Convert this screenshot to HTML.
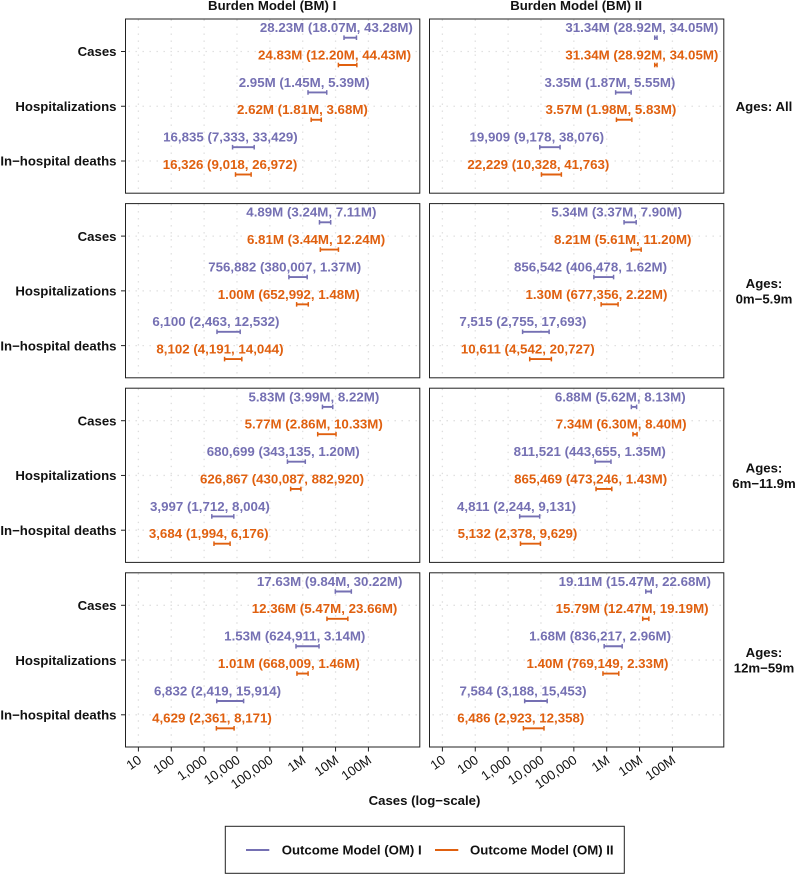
<!DOCTYPE html>
<html lang="en">
<head>
<meta charset="utf-8">
<title>Burden model estimates by age group</title>
<style>
html,body{margin:0;padding:0;background:#fff;width:796px;height:874px;overflow:hidden}
svg{display:block;font-family:"Liberation Sans",sans-serif}
text{fill:#111}
</style>
</head>
<body>
<svg id="chart" xmlns="http://www.w3.org/2000/svg" width="796" height="874" viewBox="0 0 796 874"></svg>
<script>
const tickValues = [10, 100, 1000, 10000, 100000, 1000000, 10000000, 100000000];
const tickLabels = ['10', '100', '1,000', '10,000', '100,000', '1M', '10M', '100M'];
const outcomes = ['Cases', 'Hospitalizations', 'In\u2212hospital deaths'];
const modelTitles = ['Burden Model (BM) I', 'Burden Model (BM) II'];
const seriesNames = ['Outcome Model (OM) I', 'Outcome Model (OM) II'];
const ageLabels = [['Ages: All'], ['Ages:', '0m\u22125.9m'], ['Ages:', '6m\u221211.9m'], ['Ages:', '12m\u221259m']];

const allBm1Om1 = [[28230000, 18070000, 43280000], [2950000, 1450000, 5390000], [16835, 7333, 33429]];
const allBm1Om2 = [[24830000, 12200000, 44430000], [2620000, 1810000, 3680000], [16326, 9018, 26972]];
const allBm2Om1 = [[31340000, 28920000, 34050000], [3350000, 1870000, 5550000], [19909, 9178, 38076]];
const allBm2Om2 = [[31340000, 28920000, 34050000], [3570000, 1980000, 5830000], [22229, 10328, 41763]];

const newbornBm1Om1 = [[4890000, 3240000, 7110000], [756882, 380007, 1370000], [6100, 2463, 12532]];
const newbornBm1Om2 = [[6810000, 3440000, 12240000], [1000000, 652992, 1480000], [8102, 4191, 14044]];
const newbornBm2Om1 = [[5340000, 3370000, 7900000], [856542, 406478, 1620000], [7515, 2755, 17693]];
const newbornBm2Om2 = [[8210000, 5610000, 11200000], [1300000, 677356, 2220000], [10611, 4542, 20727]];

const infantBm1Om1 = [[5830000, 3990000, 8220000], [680699, 343135, 1200000], [3997, 1712, 8004]];
const infantBm1Om2 = [[5770000, 2860000, 10330000], [626867, 430087, 882920], [3684, 1994, 6176]];
const infantBm2Om1 = [[6880000, 5620000, 8130000], [811521, 443655, 1350000], [4811, 2244, 9131]];
const infantBm2Om2 = [[7340000, 6300000, 8400000], [865469, 473246, 1430000], [5132, 2378, 9629]];

const childBm1Om1 = [[17630000, 9840000, 30220000], [1530000, 624911, 3140000], [6832, 2419, 15914]];
const childBm1Om2 = [[12360000, 5470000, 23660000], [1010000, 668009, 1460000], [4629, 2361, 8171]];
const childBm2Om1 = [[19110000, 15470000, 22680000], [1680000, 836217, 2960000], [7584, 3188, 15453]];
const childBm2Om2 = [[15790000, 12470000, 19190000], [1400000, 769149, 2330000], [6486, 2923, 12358]];

const panelData = [
  [[allBm1Om1, allBm1Om2], [allBm2Om1, allBm2Om2]],
  [[newbornBm1Om1, newbornBm1Om2], [newbornBm2Om1, newbornBm2Om2]],
  [[infantBm1Om1, infantBm1Om2], [infantBm2Om1, infantBm2Om2]],
  [[childBm1Om1, childBm1Om2], [childBm2Om1, childBm2Om2]]
];

const svg = document.getElementById('chart');
const NS = 'http://www.w3.org/2000/svg';
const colors = ['#7570B3', '#E0600F'];
const gridColor = '#dedede';
const columnLeft = [125.5, 429.5];
const panelWidth = 294.3;
const panelHeight = 174.2;
const panelStep = 184.6;
const firstTop = 19;
const tenOffset = 12.9;
const decadeWidth = 32.86;

function make(tag, attrs, parent) {
  const el = document.createElementNS(NS, tag);
  for (const k in attrs) el.setAttribute(k, attrs[k]);
  (parent || svg).appendChild(el);
  return el;
}
function xScale(col, value) {
  return columnLeft[col] + tenOffset + (Math.log10(value) - 1) * decadeWidth;
}
function panelTop(row) {
  return firstTop + row * panelStep;
}
function outcomeY(row, index) {
  return panelTop(row) + 32.5 + index * 54.75;
}
function seriesY(row, index, series) {
  return outcomeY(row, index) + (series === 0 ? -13.8 : 13.5);
}
function formatValue(v) {
  if (v >= 1000000) return (v / 1000000).toFixed(2) + 'M';
  return Math.round(v).toLocaleString('en-US');
}
function formatLabel(triple) {
  return formatValue(triple[0]) + ' (' + formatValue(triple[1]) + ', ' + formatValue(triple[2]) + ')';
}

modelTitles.forEach(function (title, col) {
  const t = make('text', {x: columnLeft[col] + panelWidth / 2 - 0.5, y: 10, 'text-anchor': 'middle', 'font-size': 13.2, 'font-weight': 700});
  
  
  t.textContent = title;
});

panelData.forEach(function (rowData, row) {
  rowData.forEach(function (colData, col) {
    const top = panelTop(row);
    const left = columnLeft[col];
    const g = make('g', {});
    
    

    tickValues.forEach(function (value) {
      const x = xScale(col, value);
      const line = make('line', {x1: x, x2: x, y1: top + 0.5, y2: top + panelHeight, stroke: gridColor, 'stroke-width': 1.3, 'stroke-dasharray': '1.4 5.6'}, g);
      
      
    });
    outcomes.forEach(function (name, i) {
      const y = outcomeY(row, i);
      const line = make('line', {x1: left + 3, x2: left + panelWidth, y1: y, y2: y, stroke: gridColor, 'stroke-width': 1.3, 'stroke-dasharray': '1.4 5.6'}, g);
      
      
    });

    colData.forEach(function (series, s) {
      series.forEach(function (triple, i) {
        const y = seriesY(row, i, s);
        const x1 = xScale(col, triple[1]);
        const x2 = xScale(col, triple[2]);
        const bar = make('line', {x1: x1, x2: x2, y1: y, y2: y, stroke: colors[s], 'stroke-width': 1.9}, g);
        
        
        [x1, x2].forEach(function (cx) {
          const cap = make('line', {x1: cx, x2: cx, y1: y - 2.3, y2: y + 2.3, stroke: colors[s], 'stroke-width': 1.5}, g);
          
          
        });
        const label = make('text', {x: xScale(col, triple[0]) - 14, y: y - 5.6, 'text-anchor': 'middle', 'font-size': 13.3, 'font-weight': 700}, g);
        label.style.fill = colors[s];
        
        
        label.textContent = formatLabel(triple);
      });
    });

    const border = make('rect', {x: left, y: top, width: panelWidth, height: panelHeight, fill: 'none', stroke: '#222', 'stroke-width': 1}, g);
    
    
  });

  outcomes.forEach(function (name, i) {
    const y = outcomeY(row, i);
    const tick = make('line', {x1: 121, x2: 125.5, y1: y, y2: y, stroke: '#222', 'stroke-width': 1});
    
    
    const t = make('text', {x: 116.5, y: y + 4.7, 'text-anchor': 'end', 'font-size': 13.2, 'font-weight': 700});
    
    
    t.textContent = name;
  });

  const lines = ageLabels[row];
  const mid = outcomeY(row, 1);
  lines.forEach(function (line, k) {
    const y = mid + 4.7 + (lines.length === 1 ? 0 : (k === 0 ? -7.8 : 7.8));
    const t = make('text', {x: 764, y: y, 'text-anchor': 'middle', 'font-size': 13.2, 'font-weight': 700});
    
    
    t.textContent = line;
  });
});

[0, 1].forEach(function (col) {
  const axisTop = panelTop(3) + panelHeight;
  tickValues.forEach(function (value, i) {
    const x = xScale(col, value);
    const tick = make('line', {x1: x, x2: x, y1: axisTop, y2: axisTop + 4.5, stroke: '#222', 'stroke-width': 1});
    
    
    const ax = x + 4;
    const ay = axisTop + 15;
    const t = make('text', {x: ax, y: ay, 'text-anchor': 'end', 'font-size': 13.2, transform: 'rotate(-35 ' + ax + ' ' + ay + ')'});
    
    
    t.textContent = tickLabels[i];
  });
});

const xTitle = make('text', {x: 424.5, y: 805, 'text-anchor': 'middle', 'font-size': 13.2, 'font-weight': 700});


xTitle.textContent = 'Cases (log\u2212scale)';

const legendBox = make('rect', {x: 225.3, y: 826.3, width: 399, height: 47, fill: '#fff', stroke: '#222', 'stroke-width': 1});



const legendLineX = [246, 435];
const legendTextX = [281.7, 470];
seriesNames.forEach(function (name, s) {
  const key = make('line', {x1: legendLineX[s], x2: legendLineX[s] + 23.3, y1: 850, y2: 850, stroke: colors[s], 'stroke-width': 2});
  
  
  const t = make('text', {x: legendTextX[s], y: 854.7, 'font-size': 13.2, 'font-weight': 700});
  
  
  t.textContent = name;
});
</script>
</body>
</html>
